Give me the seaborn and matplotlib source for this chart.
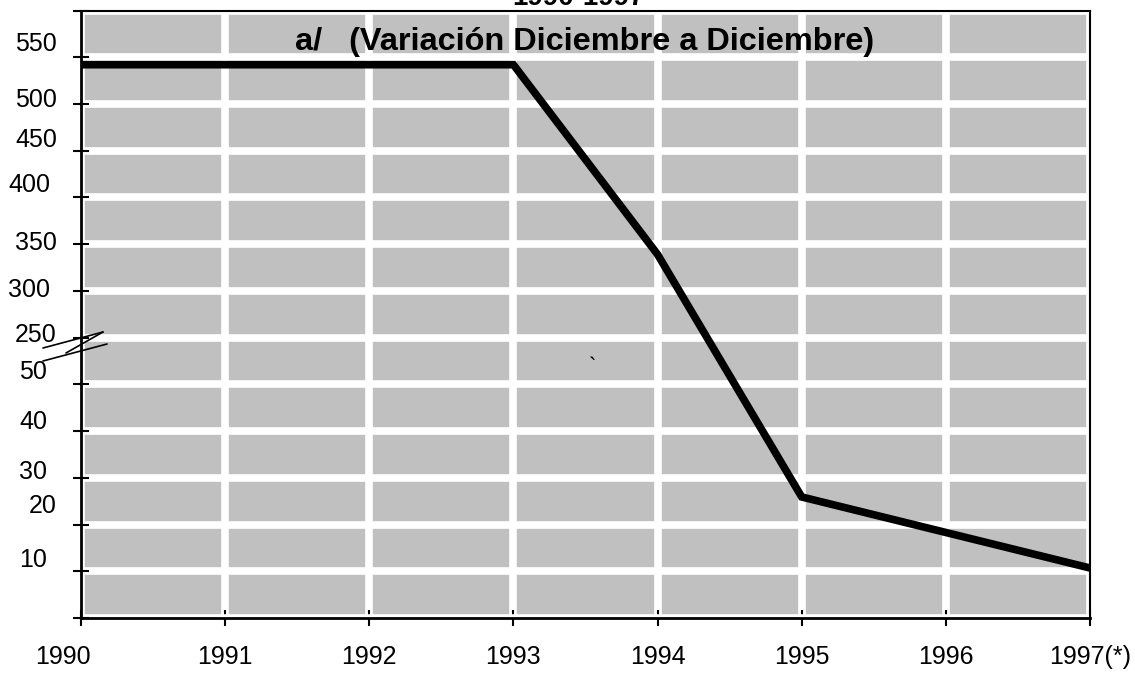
import numpy as np
import pandas as pd
import matplotlib
matplotlib.use("Agg")
import matplotlib.pyplot as plt
import matplotlib.transforms as mtransforms
from matplotlib.lines import Line2D
import seaborn as sns

# data (broken y axis: 0-50 below the break, 250-600 above)
years = ["1990", "1991", "1992", "1993", "1994", "1995", "1996", "1997(*)"]
variacion = [542, 542, 542, 542, 339, 25.9, 18.3, 10.7]
ytick_vals = [10, 20, 30, 40, 50, 250, 300, 350, 400, 450, 500, 550]
ytick_labels = ["10", "20", "30", "40", "50", "250", "300", "350", "400", "450", "500", "550"]

# hand nudges of the y labels (pixels), like the original layout
lab_right = [47, 57, 47, 47, 47, 57, 50, 57, 50, 57, 57, 57]
lab_dy = [-11, -19, -6, -9, -12, -3, -1, -1, -12, -11, -4, -13]

sns.set_theme(style="white")
plt.rcParams["font.family"] = ["Liberation Sans", "DejaVu Sans"]


def fwd(v):
    v = np.asarray(v, dtype=float)
    return np.where(v <= 50, v / 10,
                    np.where(v <= 250, 5 + (v - 50) / 200, 6 + (v - 250) / 50))


def inv(k):
    k = np.asarray(k, dtype=float)
    return np.where(k <= 5, k * 10,
                    np.where(k <= 6, 50 + (k - 5) * 200, 250 + (k - 6) * 50))


W, H = 1135, 674
fig = plt.figure(figsize=(W / 100, H / 100), dpi=100)
ax = fig.add_axes([81 / W, 56 / H, 1009 / W, 607.5 / H])
ax.set_facecolor("#c0c0c0")

df = pd.DataFrame({"x": np.arange(len(years)), "y": variacion})
sns.lineplot(data=df, x="x", y="y", ax=ax, color="black", lw=5.5,
             solid_capstyle="round", solid_joinstyle="miter", zorder=3)

ax.set_yscale("function", functions=(fwd, inv))
ax.set_ylim(0, 600)
ax.set_xlim(0, len(years) - 1)
ax.set_yticks([0] + ytick_vals + [600])
ax.set_yticklabels([])
ax.set_xticks(np.arange(len(years)))
ax.set_xticklabels(years, fontsize=18)
ax.set_xlabel("")
ax.set_ylabel("")

ax.set_axisbelow(True)
ax.grid(True, color="white", lw=5.5)
for s in ax.spines.values():
    s.set_visible(True)
    s.set_color("black")
    s.set_linewidth(1.5)
ax.spines["left"].set_linewidth(2)
ax.spines["bottom"].set_linewidth(2)
ax.tick_params(axis="both", direction="inout", length=11, width=1.5,
               color="black", left=True, bottom=True)
ax.tick_params(axis="x", pad=14, labelsize=18, labelcolor="black")

# first year label sits left of its tick in the original
xl = ax.get_xticklabels()[0]
xl.set_transform(xl.get_transform() + mtransforms.ScaledTranslation(-0.18, 0, fig.dpi_scale_trans))

# y labels placed by hand
ytr = ax.get_yaxis_transform()
for v, lab, rx, dy in zip(ytick_vals, ytick_labels, lab_right, lab_dy):
    off = mtransforms.ScaledTranslation((rx - 81) / 100, -dy / 100, fig.dpi_scale_trans)
    ax.text(0, v, lab, transform=ytr + off, ha="right", va="center",
            fontsize=18, color="black", clip_on=False)

# titles (the first one is cut by the top edge as in the original)
fig.text(578 / W, 1 - 5 / H, "1990-1997", ha="center", va="baseline",
         fontsize=20, fontweight="bold", color="black")
fig.text(295 / W, 1 - 50 / H, "a/   (Variación Diciembre a Diciembre)",
         ha="left", va="baseline", fontsize=23.4, fontweight="bold", color="black")

# axis break mark
brk = [((43, 348), (103, 332)), ((103, 332), (66, 353)), ((43, 361), (107, 344))]
for (x0, y0), (x1, y1) in brk:
    fig.add_artist(Line2D([x0 / W, x1 / W], [1 - y0 / H, 1 - y1 / H],
                          color="black", lw=1.2))

fig.text(593 / W, 1 - 368 / H, "`", ha="center", va="center", fontsize=16, color="black")

fig.savefig("out.png", dpi=100)
